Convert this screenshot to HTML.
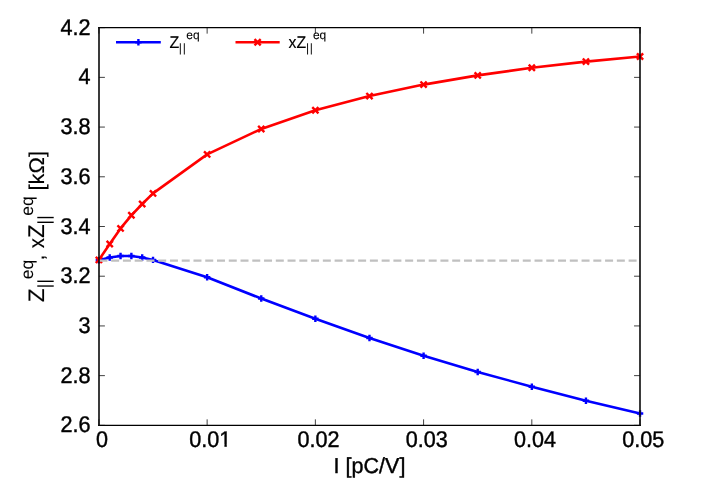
<!DOCTYPE html>
<html><head><meta charset="utf-8"><title>plot</title>
<style>
html,body{margin:0;padding:0;background:#ffffff;}
body{width:706px;height:494px;overflow:hidden;position:relative;font-family:"Liberation Sans",sans-serif;}
</style></head><body>
<svg width="706" height="494" viewBox="0 0 706 494" style="position:absolute;left:0;top:0;display:block;will-change:transform">
<rect x="0" y="0" width="706" height="494" fill="#ffffff"/>
<g font-family="'Liberation Sans', sans-serif" fill="#000000" stroke="#000000" stroke-width="0.4" stroke-linejoin="round" style="text-rendering:geometricPrecision">
<path d="M98.90 425.35 h6.00 M640.05 425.35 h-6.00 M98.90 375.64 h6.00 M640.05 375.64 h-6.00 M98.90 325.93 h6.00 M640.05 325.93 h-6.00 M98.90 276.21 h6.00 M640.05 276.21 h-6.00 M98.90 226.50 h6.00 M640.05 226.50 h-6.00 M98.90 176.79 h6.00 M640.05 176.79 h-6.00 M98.90 127.07 h6.00 M640.05 127.07 h-6.00 M98.90 77.36 h6.00 M640.05 77.36 h-6.00 M98.90 27.65 h6.00 M640.05 27.65 h-6.00 M98.90 425.35 v-6.00 M98.90 27.65 v6.00 M207.13 425.35 v-6.00 M207.13 27.65 v6.00 M315.36 425.35 v-6.00 M315.36 27.65 v6.00 M423.59 425.35 v-6.00 M423.59 27.65 v6.00 M531.82 425.35 v-6.00 M531.82 27.65 v6.00 M640.05 425.35 v-6.00 M640.05 27.65 v6.00" stroke="#000" stroke-width="0.75" fill="none"/>
<text transform="translate(90.60,432.45) scale(1.0150,1.0650)" font-size="21.33" text-anchor="end">2.6</text>
<text transform="translate(90.60,382.74) scale(1.0150,1.0650)" font-size="21.33" text-anchor="end">2.8</text>
<text transform="translate(90.60,333.03) scale(1.0150,1.0650)" font-size="21.33" text-anchor="end">3</text>
<text transform="translate(90.60,283.31) scale(1.0150,1.0650)" font-size="21.33" text-anchor="end">3.2</text>
<text transform="translate(90.60,233.60) scale(1.0150,1.0650)" font-size="21.33" text-anchor="end">3.4</text>
<text transform="translate(90.60,183.89) scale(1.0150,1.0650)" font-size="21.33" text-anchor="end">3.6</text>
<text transform="translate(90.60,134.17) scale(1.0150,1.0650)" font-size="21.33" text-anchor="end">3.8</text>
<text transform="translate(90.60,84.46) scale(1.0150,1.0650)" font-size="21.33" text-anchor="end">4</text>
<text transform="translate(90.60,34.75) scale(1.0150,1.0650)" font-size="21.33" text-anchor="end">4.2</text>
<text transform="translate(102.00,446.70) scale(1.0120,1.0650)" font-size="21.33" text-anchor="middle">0</text>
<clipPath id="nofoot"><rect x="-30" y="-30" width="60" height="28.05"/><rect x="-30" y="-2" width="39.5" height="6"/><rect x="14.05" y="-2" width="2.3" height="2.1"/></clipPath>
<text clip-path="url(#nofoot)" transform="translate(210.23,446.70) scale(1.0120,1.0650)" font-size="21.33" text-anchor="middle">0.01</text>
<text transform="translate(318.46,446.70) scale(1.0120,1.0650)" font-size="21.33" text-anchor="middle">0.02</text>
<text transform="translate(426.69,446.70) scale(1.0120,1.0650)" font-size="21.33" text-anchor="middle">0.03</text>
<text transform="translate(534.92,446.70) scale(1.0120,1.0650)" font-size="21.33" text-anchor="middle">0.04</text>
<text transform="translate(643.15,446.70) scale(1.0120,1.0650)" font-size="21.33" text-anchor="middle">0.05</text>
<text transform="translate(369.50,473.20) scale(1.0100,1.0150)" font-size="21.33" text-anchor="middle">I [pC/V]</text>
<text transform="translate(43.85,302.20) rotate(-90) scale(1.0600,1.0500)" font-size="21.33" stroke-width="0.15">Z</text>
<text transform="translate(50.05,288.15) rotate(-90) scale(1.0000,1.0300)" font-size="17.06" stroke-width="0.00">|</text>
<text transform="translate(50.05,283.45) rotate(-90) scale(1.0000,1.0300)" font-size="17.06" stroke-width="0.00">|</text>
<text transform="translate(32.85,279.30) rotate(-90) scale(1.0300,1.0300)" font-size="17.06" stroke-width="0.05">eq</text>
<text transform="translate(43.85,260.50) rotate(-90)" font-size="21.33" stroke-width="0.15">,</text>
<text transform="translate(43.85,248.20) rotate(-90) scale(0.9500,1.0300)" font-size="21.33" stroke-width="0.15">x</text>
<text transform="translate(43.85,237.90) rotate(-90) scale(1.0500,1.0670)" font-size="21.33" stroke-width="0.15">Z</text>
<text transform="translate(50.05,224.40) rotate(-90) scale(1.0000,1.0300)" font-size="17.06" stroke-width="0.00">|</text>
<text transform="translate(50.05,219.70) rotate(-90) scale(1.0000,1.0300)" font-size="17.06" stroke-width="0.00">|</text>
<text transform="translate(32.85,215.80) rotate(-90) scale(1.0300,1.0300)" font-size="17.06" stroke-width="0.05">eq</text>
<text transform="translate(43.85,190.50) rotate(-90) scale(1.0300,1.0000)" font-size="21.33" stroke-width="0.15">[k&#937;]</text>
<polyline points="98.90,260.30 109.72,257.50 120.55,256.00 131.37,256.00 142.19,257.50 153.02,259.90 207.13,277.30 261.25,298.55 315.36,318.70 369.48,338.00 423.59,355.70 477.71,372.00 531.82,386.70 585.93,400.80 640.05,413.50" stroke="#0000ff" stroke-width="2.6" fill="none" stroke-linejoin="round"/>
<path d="M95.70 260.30 L102.10 260.30 M98.90 257.10 L98.90 263.50" stroke="#0000ff" stroke-width="2.40" fill="none"/>
<path d="M106.52 257.50 L112.92 257.50 M109.72 254.30 L109.72 260.70" stroke="#0000ff" stroke-width="2.40" fill="none"/>
<path d="M117.35 256.00 L123.75 256.00 M120.55 252.80 L120.55 259.20" stroke="#0000ff" stroke-width="2.40" fill="none"/>
<path d="M128.17 256.00 L134.57 256.00 M131.37 252.80 L131.37 259.20" stroke="#0000ff" stroke-width="2.40" fill="none"/>
<path d="M138.99 257.50 L145.39 257.50 M142.19 254.30 L142.19 260.70" stroke="#0000ff" stroke-width="2.40" fill="none"/>
<path d="M149.82 259.90 L156.22 259.90 M153.02 256.70 L153.02 263.10" stroke="#0000ff" stroke-width="2.40" fill="none"/>
<path d="M203.93 277.30 L210.33 277.30 M207.13 274.10 L207.13 280.50" stroke="#0000ff" stroke-width="2.40" fill="none"/>
<path d="M258.05 298.55 L264.44 298.55 M261.25 295.35 L261.25 301.75" stroke="#0000ff" stroke-width="2.40" fill="none"/>
<path d="M312.16 318.70 L318.56 318.70 M315.36 315.50 L315.36 321.90" stroke="#0000ff" stroke-width="2.40" fill="none"/>
<path d="M366.28 338.00 L372.68 338.00 M369.48 334.80 L369.48 341.20" stroke="#0000ff" stroke-width="2.40" fill="none"/>
<path d="M420.39 355.70 L426.79 355.70 M423.59 352.50 L423.59 358.90" stroke="#0000ff" stroke-width="2.40" fill="none"/>
<path d="M474.51 372.00 L480.91 372.00 M477.71 368.80 L477.71 375.20" stroke="#0000ff" stroke-width="2.40" fill="none"/>
<path d="M528.62 386.70 L535.02 386.70 M531.82 383.50 L531.82 389.90" stroke="#0000ff" stroke-width="2.40" fill="none"/>
<path d="M582.73 400.80 L589.13 400.80 M585.93 397.60 L585.93 404.00" stroke="#0000ff" stroke-width="2.40" fill="none"/>
<path d="M636.85 413.50 L643.25 413.50 M640.05 410.30 L640.05 416.70" stroke="#0000ff" stroke-width="2.40" fill="none"/>
<polyline points="98.90,259.90 109.72,244.00 120.55,228.40 131.37,215.30 142.19,204.00 153.02,193.40 207.13,154.40 261.25,128.95 315.36,110.30 369.48,96.10 423.59,84.60 477.71,75.40 531.82,67.80 585.93,61.60 640.05,56.50" stroke="#ff0000" stroke-width="2.6" fill="none" stroke-linejoin="round"/>
<path d="M95.80 256.80 L102.00 263.00 M95.80 263.00 L102.00 256.80" stroke="#ff0000" stroke-width="2.40" fill="none"/>
<path d="M106.62 240.90 L112.82 247.10 M106.62 247.10 L112.82 240.90" stroke="#ff0000" stroke-width="2.40" fill="none"/>
<path d="M117.45 225.30 L123.65 231.50 M117.45 231.50 L123.65 225.30" stroke="#ff0000" stroke-width="2.40" fill="none"/>
<path d="M128.27 212.20 L134.47 218.40 M128.27 218.40 L134.47 212.20" stroke="#ff0000" stroke-width="2.40" fill="none"/>
<path d="M139.09 200.90 L145.29 207.10 M139.09 207.10 L145.29 200.90" stroke="#ff0000" stroke-width="2.40" fill="none"/>
<path d="M149.92 190.30 L156.12 196.50 M149.92 196.50 L156.12 190.30" stroke="#ff0000" stroke-width="2.40" fill="none"/>
<path d="M204.03 151.30 L210.23 157.50 M204.03 157.50 L210.23 151.30" stroke="#ff0000" stroke-width="2.40" fill="none"/>
<path d="M258.14 125.85 L264.35 132.05 M258.14 132.05 L264.35 125.85" stroke="#ff0000" stroke-width="2.40" fill="none"/>
<path d="M312.26 107.20 L318.46 113.40 M312.26 113.40 L318.46 107.20" stroke="#ff0000" stroke-width="2.40" fill="none"/>
<path d="M366.38 93.00 L372.58 99.20 M366.38 99.20 L372.58 93.00" stroke="#ff0000" stroke-width="2.40" fill="none"/>
<path d="M420.49 81.50 L426.69 87.70 M420.49 87.70 L426.69 81.50" stroke="#ff0000" stroke-width="2.40" fill="none"/>
<path d="M474.61 72.30 L480.81 78.50 M474.61 78.50 L480.81 72.30" stroke="#ff0000" stroke-width="2.40" fill="none"/>
<path d="M528.72 64.70 L534.92 70.90 M528.72 70.90 L534.92 64.70" stroke="#ff0000" stroke-width="2.40" fill="none"/>
<path d="M582.83 58.50 L589.03 64.70 M582.83 64.70 L589.03 58.50" stroke="#ff0000" stroke-width="2.40" fill="none"/>
<path d="M636.95 53.40 L643.15 59.60 M636.95 59.60 L643.15 53.40" stroke="#ff0000" stroke-width="2.40" fill="none"/>
<path d="M99.4 260.6 H640" stroke="#c0c0c0" stroke-width="2.2" stroke-dasharray="8 3.76" fill="none"/>
<path d="M98.15 27.65 H640.85 M98.15 425.35 H640.85" stroke="#000" stroke-width="1.3" fill="none"/>
<path d="M99 27 V426 M640 27 V426" stroke="#0a0a0a" stroke-width="1.6" fill="none"/>
<path d="M116 42.3 H160.8" stroke="#0000ff" stroke-width="2.6" fill="none"/>
<path d="M135.20 42.30 L141.60 42.30 M138.40 39.10 L138.40 45.50" stroke="#0000ff" stroke-width="2.40" fill="none"/>
<text transform="translate(169.60,47.60) scale(1.0000,1.0600)" font-size="16.00" stroke-width="0.15">Z</text>
<text transform="translate(178.85,52.40)" font-size="12.00" stroke-width="0.00">|</text>
<text transform="translate(182.85,52.40)" font-size="12.00" stroke-width="0.00">|</text>
<text transform="translate(186.30,39.40)" font-size="12.00" stroke-width="0.10">eq</text>
<path d="M235.5 42.3 H279.7" stroke="#ff0000" stroke-width="2.6" fill="none"/>
<path d="M254.50 39.20 L260.70 45.40 M254.50 45.40 L260.70 39.20" stroke="#ff0000" stroke-width="2.40" fill="none"/>
<text transform="translate(288.60,47.60) scale(0.9900,1.0600)" font-size="16.00" stroke-width="0.15">xZ</text>
<text transform="translate(306.10,52.40)" font-size="12.00" stroke-width="0.00">|</text>
<text transform="translate(309.75,52.40)" font-size="12.00" stroke-width="0.00">|</text>
<text transform="translate(312.90,39.40)" font-size="12.00" stroke-width="0.10">eq</text>
</g></svg>
</body></html>
